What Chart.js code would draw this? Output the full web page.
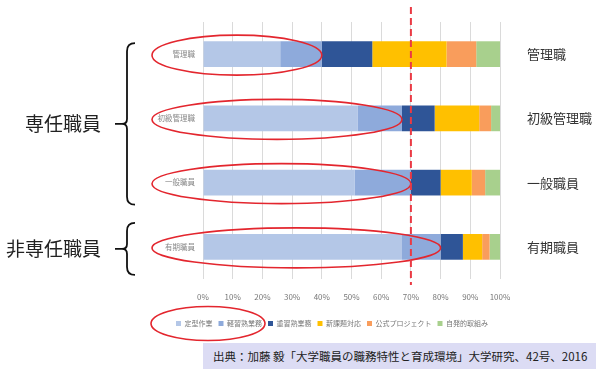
<!DOCTYPE html>
<html lang="ja">
<head>
<meta charset="utf-8">
<script src="https://cdn.jsdelivr.net/npm/chart.js@4/dist/chart.umd.min.js"></script>
<style>
  body { margin: 0; background: #fff; }
  #wrap { position: relative; width: 596px; height: 370px; }
  #chart { position: absolute; left: 0; top: 0; }
  #source {
    position: absolute; left: 203px; top: 343px; width: 383px; height: 26px;
    padding-left: 10px; background: #dcdcf4; color: #222;
    font: 11.5px "Noto Sans CJK JP", sans-serif; line-height: 26px; white-space: nowrap;
  }
</style>
</head>
<body>
<div id="wrap">
  <canvas id="chart" width="596" height="370"></canvas>
  <div id="source">出典：加藤 毅「大学職員の職務特性と育成環境」大学研究、42号、2016</div>
</div>
<script>
/***** Data *****/
const categories = ["管理職", "初級管理職", "一般職員", "有期職員"];
const seriesNames = ["定型作業", "軽習熟業務", "重習熟業務", "新課題対応", "公式プロジェクト", "自発的取組み"];
const teikei = [26, 52, 51, 67];
const keiShujuku = [14, 15, 19, 13];
const juShujuku = [17, 11, 10, 7.5];
const shinKadai = [25, 15, 10.5, 6.5];
const koshiki = [10, 4, 4.5, 2.5];
const jihatsu = [8, 3, 5, 3.5];
const groupLabels = ["専任職員", "非専任職員"];
const groupRanges = [[0, 2], [3, 3]];
const thresholdValue = 70;

const FONT = '"Noto Sans CJK JP", sans-serif';
const seriesColors = ["#b4c7e7", "#8eaadb", "#2f5597", "#ffc000", "#f99d5c", "#a8d08d"];
const seriesValues = [teikei, keiShujuku, juShujuku, shinKadai, koshiki, jihatsu];

// Draws a left-pointing curly brace
const drawBrace = (ctx, x, top, bottom, tip) => {
  ctx.beginPath();
  ctx.moveTo(x + 8, top);
  ctx.quadraticCurveTo(x, top, x, top + 8);
  ctx.lineTo(x, tip - 5);
  ctx.quadraticCurveTo(x, tip, x - 5, tip);
  ctx.lineTo(x - 12, tip);
  ctx.moveTo(x - 5, tip);
  ctx.quadraticCurveTo(x, tip, x, tip + 5);
  ctx.lineTo(x, bottom - 8);
  ctx.quadraticCurveTo(x, bottom, x + 8, bottom);
  ctx.stroke();
};

/***** Annotations: dashed 70% line, red ellipses, braces *****/
const annotations = {
  id: "annotations",
  afterDraw: (chart) => {
    const { ctx, chartArea } = chart;
    const x = chart.scales.x;
    const y = chart.scales.y;
    ctx.save();

    // red ellipses round label + routine work segments
    ctx.strokeStyle = "#e3262e";
    ctx.lineWidth = 1.6;
    for (let i = 0; i < categories.length; i++) {
      const left = 152;
      const right = x.getPixelForValue(teikei[i] + keiShujuku[i]);
      const cy = y.getPixelForValue(i) + 1;
      ctx.beginPath();
      ctx.ellipse((left + right) / 2, cy, (right - left) / 2, 20, 0, 0, Math.PI * 2);
      ctx.stroke();
    }
    // ellipse round the first two legend items
    const boxes = chart.legend.legendHitBoxes;
    if (boxes && boxes.length > 1) {
      const l = boxes[0].left - 25;
      const r = boxes[1].left + boxes[1].width + 3;
      const cy = boxes[0].top + boxes[0].height / 2;
      ctx.beginPath();
      ctx.ellipse((l + r) / 2, cy, (r - l) / 2, 17, 0, 0, Math.PI * 2);
      ctx.stroke();
    }

    // dashed threshold line
    const lx = x.getPixelForValue(thresholdValue);
    ctx.strokeStyle = "#ea3a44";
    ctx.lineWidth = 2;
    ctx.setLineDash([7, 4]);
    ctx.beginPath();
    ctx.moveTo(lx, 7);
    ctx.lineTo(lx, chartArea.bottom + 6);
    ctx.stroke();
    ctx.setLineDash([]);

    // braces and group labels
    ctx.strokeStyle = "#111";
    ctx.lineWidth = 1.8;
    ctx.fillStyle = "#222";
    ctx.font = "19px " + FONT;
    ctx.textAlign = "right";
    ctx.textBaseline = "middle";
    groupRanges.forEach((range, g) => {
      const single = range[0] === range[1];
      const top = y.getPixelForValue(range[0]) - (single ? 24 : 11);
      const bottom = y.getPixelForValue(range[1]) + (single ? 28 : 22);
      const tip = (top + bottom) / 2;
      drawBrace(ctx, 127, top, bottom, tip);
      ctx.fillText(groupLabels[g], 101, tip);
    });
    ctx.restore();
  },
};

/***** Chart *****/
const datasets = seriesNames.map((name, i) => ({
  label: name,
  data: seriesValues[i],
  backgroundColor: seriesColors[i],
  borderWidth: 0,
  categoryPercentage: 0.8,
  barPercentage: 0.5,
}));

new Chart(document.querySelector("#chart"), {
  type: "bar",
  data: { labels: categories, datasets: datasets },
  plugins: [annotations],
  options: {
    indexAxis: "y",
    responsive: false,
    animation: false,
    layout: { padding: { left: 68, right: 0, top: 22, bottom: 33 } },
    plugins: {
      tooltip: { enabled: false },
      legend: {
        position: "bottom",
        labels: {
          boxWidth: 5,
          boxHeight: 5,
          padding: 6,
          color: "#777",
          font: { family: FONT, size: 7 },
        },
      },
    },
    scales: {
      x: {
        stacked: true,
        min: 0,
        max: 100,
        grid: { color: "#dadada", drawTicks: false },
        border: { display: false },
        ticks: {
          stepSize: 10,
          padding: 13,
          color: "#777",
          font: { family: FONT, size: 8 },
          callback: (v) => v + "%",
        },
        afterFit: (s) => { s.height = 35; },
      },
      y: {
        stacked: true,
        grid: { display: false, drawTicks: false },
        border: { display: false },
        ticks: { padding: 8, color: "#888", font: { family: FONT, size: 7.5 } },
        afterFit: (s) => { s.width = 135; },
      },
      y2: {
        type: "category",
        labels: categories,
        position: "right",
        offset: true,
        // invisible tick marks push the labels out without adding top padding
        grid: { display: true, drawOnChartArea: false, drawTicks: true, tickLength: 27, tickColor: "rgba(0,0,0,0)" },
        border: { display: false },
        ticks: { padding: 0, color: "#333", font: { family: FONT, size: 13 } },
        afterFit: (s) => { s.width = 96; },
      },
    },
  },
});
</script>
</body>
</html>
